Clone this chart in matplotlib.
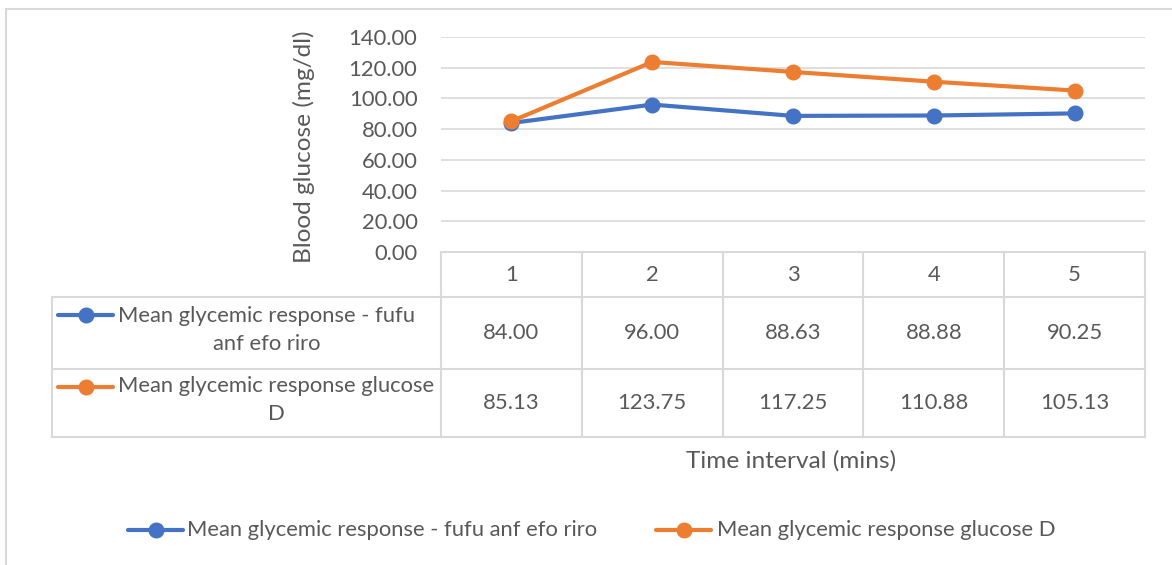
import numpy as np
import matplotlib.pyplot as plt
from matplotlib.lines import Line2D
from matplotlib.transforms import blended_transform_factory

plt.rcParams['font.family'] = ['Lato', 'DejaVu Sans']

# glycemic response over the time intervals
times = [1, 2, 3, 4, 5]
fufu = [84.00, 96.00, 88.63, 88.88, 90.25]
glucose_d = [85.13, 123.75, 117.25, 110.88, 105.13]
names = ['Mean glycemic response - fufu anf efo riro',
         'Mean glycemic response glucose D']
table_names = ['Mean glycemic response - fufu\nanf efo riro',
               'Mean glycemic response glucose\nD']
colors = ['#4472C4', '#ED7D31']
yticks = np.arange(0, 141, 20)

W, H = 1172, 565
txt = '#595959'
grid = '#D9D9D9'
fs = 15.8
fs_title = 17.6

fig = plt.figure(figsize=(W / 100, H / 100), dpi=100)

def fx(x):
    return x / W

def fy(y):
    return 1 - y / H

# outer chart border (cut off at right / bottom)
fig.add_artist(Line2D([fx(6), 1], [fy(8.5), fy(8.5)], color=grid, lw=1.5))
fig.add_artist(Line2D([fx(6), fx(6)], [fy(8.5), 0], color=grid, lw=1.5))

ax = fig.add_axes([fx(441), fy(252), fx(1145) - fx(441), fy(37) - fy(252)])
ax.set_xlim(0.5, 5.5)
ax.set_ylim(0, 140)
ax.set_yticks(yticks)
ax.set_yticklabels(['%.2f' % v for v in yticks], color=txt, fontsize=fs)
ax.tick_params(axis='y', length=0, pad=17)
ax.set_xticks([])
for s in ax.spines.values():
    s.set_visible(False)
ax.grid(axis='y', color=grid, lw=1.2)
ax.set_axisbelow(True)

series = [fufu, glucose_d]
for vals, c in zip(series, colors):
    ax.plot(times, vals, color=c, lw=3, marker='o', ms=10.5, solid_capstyle='round')

fig.text(fx(304), fy(147), 'Blood glucose (mg/dl)', rotation=90, ha='center',
         va='center', color=txt, fontsize=fs_title)

# data table under the plot
tr = blended_transform_factory(ax.transData, fig.transFigure)
rows = [252, 297, 369, 437]
left = 52
edges = [t - 0.5 for t in times] + [times[-1] + 0.5]
for e in edges:
    fig.add_artist(Line2D([e, e], [fy(rows[0]), fy(rows[-1])], transform=tr,
                          color=grid, lw=1.5))
for r in rows[1:]:
    fig.add_artist(Line2D([fx(left), fx(1145)], [fy(r), fy(r)], color=grid, lw=1.5))
fig.add_artist(Line2D([fx(441), fx(1145)], [fy(rows[0]), fy(rows[0])], color=grid, lw=1.5))
fig.add_artist(Line2D([fx(left), fx(left)], [fy(rows[1]), fy(rows[-1])], color=grid, lw=1.5))

for t in times:
    fig.text(t, fy(275), str(t), transform=tr, ha='center', va='center',
             color=txt, fontsize=fs)

for i, (vals, c, lab) in enumerate(zip(series, colors, table_names)):
    yc = (rows[i + 1] + rows[i + 2]) / 2
    for t, v in zip(times, vals):
        fig.text(t, fy(yc), '%.2f' % v, transform=tr, ha='center', va='center',
                 color=txt, fontsize=fs)
    ly = rows[i + 1] + 18
    fig.add_artist(Line2D([fx(58), fx(113)], [fy(ly), fy(ly)], color=c, lw=3,
                          solid_capstyle='round'))
    fig.add_artist(Line2D([fx(85.5)], [fy(ly)], color=c, marker='o', ms=10.5, lw=0))
    fig.text(fx(118), fy(yc - 2.5), lab, ha='left', va='center', color=txt,
             fontsize=fs, multialignment='center', linespacing=1.5)

fig.text(fx(791), fy(461), 'Time interval (mins)', ha='center', va='center',
         color=txt, fontsize=fs_title)

# legend at the bottom
leg_items = [(128, 187), (656, 717)]
for (lx, tx), c, n in zip(leg_items, colors, names):
    fig.add_artist(Line2D([fx(lx), fx(lx + 55)], [fy(530), fy(530)], color=c, lw=3,
                          solid_capstyle='round'))
    fig.add_artist(Line2D([fx(lx + 27.5)], [fy(530)], color=c, marker='o', ms=10.5, lw=0))
    fig.text(fx(tx), fy(530), n, ha='left', va='center', color=txt, fontsize=fs)

fig.savefig('out.png', dpi=100)
